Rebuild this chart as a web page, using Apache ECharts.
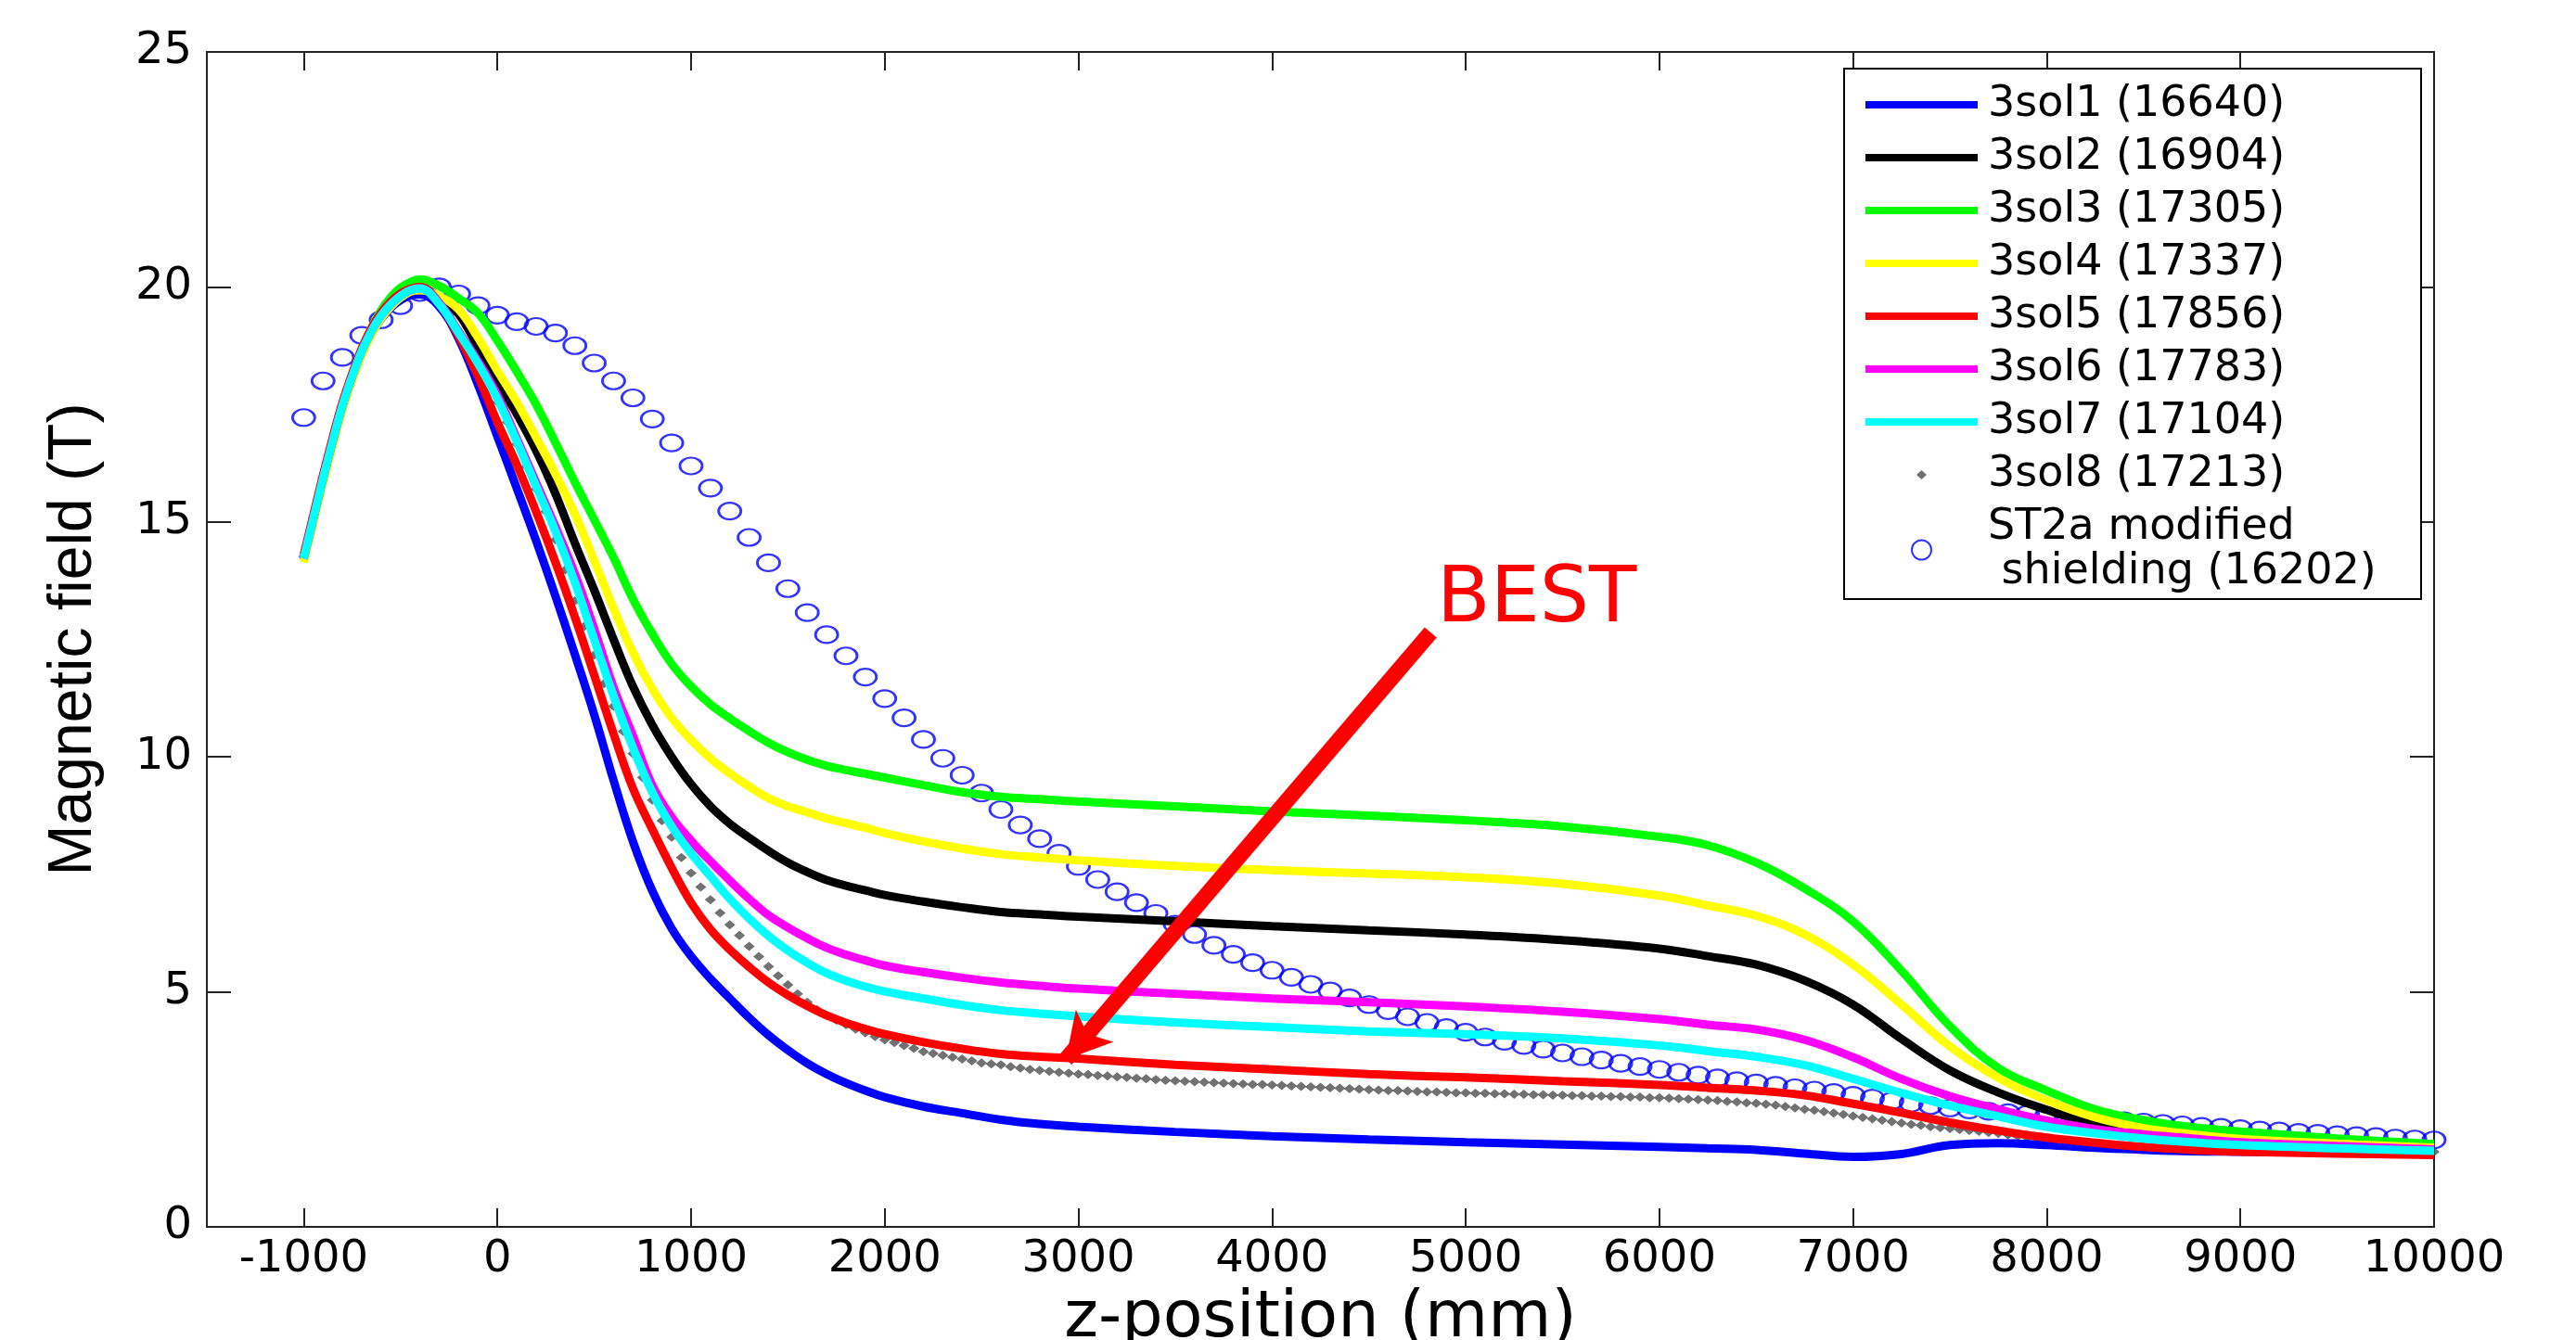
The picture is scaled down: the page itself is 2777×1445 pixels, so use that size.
<!DOCTYPE html>
<html>
<head>
<meta charset="utf-8">
<title>Magnetic field vs z-position</title>
<script src="https://cdn.jsdelivr.net/npm/echarts@6.0.0/dist/echarts.min.js"></script>
<style>
    html, body { margin: 0; padding: 0; background: #fff; }
    #field_chart { width: 2777px; height: 1445px; }
</style>
</head>
<body>
<div id="field_chart"></div>
<script>
// axis ticks
var xTicks = [-1000, 0, 1000, 2000, 3000, 4000, 5000, 6000, 7000, 8000, 9000, 10000];

// legend names
var names = ['3sol1 (16640)', '3sol2 (16904)', '3sol3 (17305)', '3sol4 (17337)', '3sol5 (17856)',
    '3sol6 (17783)', '3sol7 (17104)', '3sol8 (17213)', 'ST2a modified\n shielding (16202)'];

// z positions (mm) where the solid curves were read
var zGrid = [-1000, -950, -900, -850, -800, -750, -700, -650, -600, -550, -500, -450, -400,
    -300, -200, -100,
    0, 100, 200, 300, 400, 500, 600, 700, 800, 900, 1000, 1100, 1200, 1300, 1400, 1500, 1600, 1700, 1800, 1900, 2000,
    2200, 2400, 2600, 2800, 3000,
    3500, 4000, 4500, 5000, 5500, 6000,
    6250, 6500, 6750, 7000, 7250, 7500, 7750, 8000, 8250, 8500, 8750, 9000, 9500, 10000];

// field B (T) on zGrid
var sol1 = [14.2, 15.04, 15.88, 16.68, 17.42, 18.03, 18.57, 19.0, 19.32, 19.56, 19.72, 19.82, 19.84,
    19.58, 18.9, 17.92,
    16.82, 15.72, 14.6, 13.42, 12.18, 10.9, 9.5, 8.2, 7.15, 6.35, 5.76, 5.28, 4.86, 4.45, 4.08, 3.76, 3.48, 3.25, 3.06, 2.9, 2.76,
    2.56, 2.42, 2.28, 2.19, 2.13,
    2.02, 1.93, 1.86, 1.8, 1.75, 1.7,
    1.67, 1.64, 1.56, 1.49, 1.55, 1.74, 1.78, 1.74, 1.68, 1.64, 1.61, 1.6, 1.58, 1.56];
var sol2 = [14.22, 15.07, 15.92, 16.72, 17.47, 18.09, 18.63, 19.06, 19.39, 19.63, 19.81, 19.93, 19.96,
    19.78, 19.42, 18.72,
    17.98, 17.3, 16.52, 15.6, 14.55, 13.55, 12.5, 11.5, 10.68, 10.0, 9.42, 8.95, 8.58, 8.28, 8.0, 7.75, 7.55, 7.38, 7.26, 7.16, 7.06,
    6.92, 6.8, 6.7, 6.65, 6.6,
    6.5, 6.4, 6.31, 6.22, 6.1, 5.92,
    5.76, 5.58, 5.24, 4.73, 4.0, 3.33, 2.86, 2.49, 2.17, 1.98, 1.88, 1.8, 1.72, 1.65];
var sol3 = [14.22, 15.07, 15.92, 16.72, 17.48, 18.12, 18.68, 19.13, 19.5, 19.78, 19.98, 20.1, 20.16,
    20.02, 19.76, 19.44,
    18.86, 18.2, 17.5, 16.69, 15.85, 15.05, 14.24, 13.36, 12.62, 11.98, 11.5, 11.12, 10.82, 10.55, 10.3, 10.1, 9.94, 9.81, 9.72, 9.64, 9.56,
    9.4, 9.25, 9.15, 9.1, 9.05,
    8.95, 8.84, 8.75, 8.65, 8.52, 8.3,
    8.12, 7.75, 7.2, 6.5, 5.45, 4.27, 3.38, 2.9, 2.5, 2.27, 2.12, 2.03, 1.88, 1.76];
var sol4 = [14.14, 14.98, 15.82, 16.62, 17.38, 18.0, 18.55, 18.99, 19.33, 19.58, 19.77, 19.9, 19.93,
    19.8, 19.52, 18.92,
    18.22, 17.55, 16.8, 16.02, 15.17, 14.18, 13.16, 12.22, 11.45, 10.83, 10.36, 9.97, 9.65, 9.37, 9.12, 8.95, 8.82, 8.69, 8.59, 8.49, 8.38,
    8.2, 8.05, 7.93, 7.86, 7.8,
    7.68, 7.59, 7.52, 7.44, 7.3, 7.05,
    6.84, 6.62, 6.22, 5.58, 4.73, 3.84, 3.17, 2.69, 2.33, 2.1, 1.97, 1.87, 1.77, 1.68];
var sol5 = [14.3, 15.15, 16.0, 16.8, 17.54, 18.15, 18.69, 19.12, 19.45, 19.69, 19.86, 19.96, 20.0,
    19.65, 18.95, 18.1,
    17.12, 16.22, 15.22, 14.14, 12.98, 11.74, 10.49, 9.33, 8.46, 7.64, 6.9, 6.33, 5.9, 5.53, 5.2, 4.93, 4.7, 4.5, 4.34, 4.21, 4.1,
    3.93, 3.79, 3.68, 3.62, 3.58,
    3.45, 3.35, 3.25, 3.18, 3.1, 3.02,
    2.96, 2.9, 2.8, 2.62, 2.43, 2.22, 2.05, 1.9, 1.79, 1.7, 1.64, 1.6, 1.56, 1.53];
var sol6 = [14.22, 15.07, 15.92, 16.72, 17.47, 18.09, 18.63, 19.06, 19.39, 19.63, 19.81, 19.93, 19.97,
    19.66, 19.05, 18.42,
    17.7, 16.78, 15.84, 14.9, 13.9, 12.73, 11.48, 10.45, 9.4, 8.72, 8.22, 7.78, 7.37, 6.98, 6.63, 6.37, 6.14, 5.94, 5.79, 5.67, 5.56,
    5.42, 5.3, 5.2, 5.13, 5.07,
    4.96, 4.86, 4.78, 4.69, 4.58, 4.42,
    4.3, 4.2, 3.98, 3.61, 3.15, 2.78, 2.5, 2.26, 2.08, 1.97, 1.88, 1.8, 1.72, 1.65];
var sol7 = [14.22, 15.07, 15.92, 16.72, 17.47, 18.09, 18.63, 19.06, 19.39, 19.63, 19.81, 19.93, 19.97,
    19.63, 19.02, 18.37,
    17.62, 16.72, 15.76, 14.8, 13.72, 12.5, 11.3, 10.2, 9.25, 8.52, 7.95, 7.46, 6.98, 6.56, 6.19, 5.88, 5.62, 5.4, 5.24, 5.11, 5.01,
    4.86, 4.72, 4.61, 4.54, 4.48,
    4.35, 4.25, 4.16, 4.1, 4.01, 3.86,
    3.74, 3.62, 3.44, 3.15, 2.85, 2.58, 2.35, 2.13, 1.99, 1.88, 1.8, 1.74, 1.67, 1.62];

// 3sol8 markers, one every 50 mm from -1000
var sol8Start = -1000, sol8Step = 50;
var sol8Values = [14.26, 15.09, 15.94, 16.69, 17.46, 18.07, 18.64, 19.06, 19.36, 19.6, 19.77, 19.9, 19.95, 19.85, 19.66, 19.4, 19.03, 18.7, 18.36, 17.95,
    17.55, 17.12, 16.66, 16.18, 15.7, 15.22, 14.62, 13.98, 13.32, 12.78, 12.17, 11.56, 11.08, 10.54, 10.07, 9.56, 9.08, 8.64, 8.29, 7.86,
    7.53, 7.23, 6.96, 6.68, 6.43, 6.2, 5.97, 5.75, 5.54, 5.34, 5.15, 4.96, 4.78, 4.62, 4.5, 4.4, 4.3, 4.21, 4.13, 4.05,
    3.98, 3.92, 3.86, 3.8, 3.73, 3.69, 3.65, 3.61, 3.57, 3.53, 3.49, 3.47, 3.45, 3.41, 3.38, 3.35, 3.33, 3.31, 3.29, 3.27,
    3.25, 3.24, 3.22, 3.21, 3.19, 3.18, 3.16, 3.15, 3.13, 3.12, 3.11, 3.1, 3.09, 3.08, 3.07, 3.06, 3.05, 3.04, 3.03, 3.03,
    3.02, 3.01, 3.0, 2.99, 2.98, 2.97, 2.96, 2.95, 2.94, 2.93, 2.92, 2.91, 2.9, 2.9, 2.89, 2.88, 2.87, 2.87, 2.86, 2.85,
    2.85, 2.84, 2.84, 2.83, 2.83, 2.82, 2.82, 2.81, 2.81, 2.8, 2.8, 2.79, 2.79, 2.78, 2.78, 2.77, 2.77, 2.76, 2.76, 2.75,
    2.75, 2.74, 2.73, 2.72, 2.71, 2.7, 2.69, 2.67, 2.66, 2.64, 2.63, 2.61, 2.59, 2.56, 2.53, 2.5, 2.48, 2.45, 2.42, 2.39,
    2.36, 2.33, 2.3, 2.27, 2.24, 2.21, 2.18, 2.16, 2.13, 2.11, 2.09, 2.07, 2.05, 2.03, 2.01, 1.99, 1.96, 1.93, 1.9, 1.87,
    1.84, 1.82, 1.8, 1.78, 1.77, 1.75, 1.74, 1.73, 1.72, 1.71, 1.71, 1.7, 1.7, 1.69, 1.69, 1.68, 1.68, 1.67, 1.67, 1.66,
    1.66, 1.65, 1.65, 1.65, 1.64, 1.64, 1.64, 1.63, 1.63, 1.63, 1.62, 1.62, 1.62, 1.62, 1.61, 1.61, 1.61, 1.61, 1.6, 1.6, 1.6];

// ST2a circles, one every 100 mm from -1000
var st2aStart = -1000, st2aStep = 100;
var st2aValues = [17.22, 18.0, 18.5, 18.97, 19.3, 19.6, 19.88, 20.0, 19.85, 19.6,
    19.4, 19.26, 19.16, 19.02, 18.75, 18.38, 18.0, 17.64, 17.19, 16.68,
    16.19, 15.72, 15.23, 14.67, 14.13, 13.58, 13.07, 12.6, 12.15, 11.7,
    11.24, 10.83, 10.37, 9.97, 9.61, 9.23, 8.88, 8.55, 8.26, 7.95,
    7.67, 7.39, 7.13, 6.9, 6.67, 6.44, 6.22, 5.99, 5.8, 5.62,
    5.46, 5.31, 5.16, 5.02, 4.87, 4.73, 4.6, 4.47, 4.35, 4.24,
    4.14, 4.04, 3.95, 3.86, 3.78, 3.7, 3.62, 3.55, 3.48, 3.41,
    3.35, 3.29, 3.23, 3.17, 3.11, 3.06, 3.01, 2.96, 2.91, 2.86,
    2.8, 2.74, 2.68, 2.63, 2.58, 2.53, 2.49, 2.46, 2.43, 2.4,
    2.37, 2.34, 2.31, 2.28, 2.26, 2.23, 2.2, 2.17, 2.14, 2.12,
    2.09, 2.06, 2.04, 2.01, 1.99, 1.96, 1.94, 1.92, 1.89, 1.87, 1.85];

// "BEST" arrow: tail and head centre (z, B)
var bestArrow = [[4819, 12.65], [2935, 3.56]];

function zipGrid(values) {
    var out = [];
    for (var i = 0; i < zGrid.length; i++) {
        out.push([zGrid[i], values[i]]);
    }
    return out;
}

function toPoints(start, step, values) {
    var out = [];
    for (var i = 0; i < values.length; i++) {
        out.push([start + i * step, values[i]]);
    }
    return out;
}

function solLine(name, values, color) {
    return {
        name: name,
        type: 'line',
        data: zipGrid(values),
        symbol: 'none',
        smooth: 0.4,
        lineStyle: {color: color, width: 9},
        itemStyle: {color: color}
    };
}

var axisColor = '#222';
var lineIcon = 'path://M0,0L0,0M121,21L121,21M0,6.5L121,6.5L121,14.5L0,14.5Z';
var diamondIcon = 'path://M0,0L0,0M121,21L121,21M55,10.5L60.5,5.5L66,10.5L60.5,15.5Z';

var fieldChart = echarts.init(document.getElementById('field_chart'));

var field_option = {
    animation: false,
    backgroundColor: '#fff',
    textStyle: {fontFamily: 'DejaVu Sans'},
    grid: {left: 223, right: 153, top: 56, bottom: 122, containLabel: false, outerBoundsMode: 'none'},
    legend: {
        orient: 'vertical',
        left: 1988,
        top: 74,
        z: 10,
        selectedMode: false,
        padding: [15, 20, 3, 23],
        itemWidth: 121,
        itemHeight: 21,
        itemGap: 9,
        textStyle: {fontFamily: 'DejaVu Sans', fontSize: 46, lineHeight: 48, color: '#000', padding: [0, 0, 0, 6]},
        data: [
            {name: names[0], icon: lineIcon}, {name: names[1], icon: lineIcon}, {name: names[2], icon: lineIcon},
            {name: names[3], icon: lineIcon}, {name: names[4], icon: lineIcon}, {name: names[5], icon: lineIcon},
            {name: names[6], icon: lineIcon},
            {name: names[7], icon: diamondIcon},
            {name: names[8]}
        ]
    },
    xAxis: [{
        type: 'value',
        min: -1500,
        max: 10000,
        position: 'bottom',
        name: 'z-position (mm)',
        nameLocation: 'middle',
        nameGap: 56,
        nameTextStyle: {fontFamily: 'DejaVu Sans', fontSize: 70, color: '#000'},
        axisLine: {show: true, onZero: false, lineStyle: {color: axisColor, width: 2}},
        axisTick: {show: true, inside: true, length: 20, customValues: xTicks, lineStyle: {color: axisColor, width: 2}},
        axisLabel: {
            customValues: xTicks, margin: 12, fontFamily: 'DejaVu Sans', fontSize: 48, color: '#000',
            formatter: function (v) { return String(v); }
        },
        splitLine: {show: false}
    }, {
        type: 'value',
        min: -1500,
        max: 10000,
        position: 'top',
        axisLine: {show: true, onZero: false, lineStyle: {color: axisColor, width: 2}},
        axisTick: {show: true, inside: true, length: 20, customValues: xTicks, lineStyle: {color: axisColor, width: 2}},
        axisLabel: {show: false},
        splitLine: {show: false}
    }],
    yAxis: [{
        type: 'value',
        min: 0,
        max: 25,
        interval: 5,
        position: 'left',
        name: 'Magnetic field (T)',
        nameLocation: 'middle',
        nameGap: 110,
        nameTextStyle: {fontFamily: 'Liberation Sans', fontSize: 66, color: '#000'},
        axisLine: {show: true, onZero: false, lineStyle: {color: axisColor, width: 2}},
        axisTick: {show: true, inside: true, length: 26, lineStyle: {color: axisColor, width: 2}},
        axisLabel: {margin: 16, fontFamily: 'DejaVu Sans', fontSize: 48, color: '#000'},
        splitLine: {show: false}
    }, {
        type: 'value',
        min: 0,
        max: 25,
        interval: 5,
        position: 'right',
        axisLine: {show: true, onZero: false, lineStyle: {color: axisColor, width: 2}},
        axisTick: {show: true, inside: true, length: 26, lineStyle: {color: axisColor, width: 2}},
        axisLabel: {show: false},
        splitLine: {show: false}
    }],
    graphic: [{
        type: 'rect',
        z: 5,
        shape: {x: 1988, y: 74, width: 622, height: 572},
        style: {fill: '#fff', stroke: '#000', lineWidth: 2}
    }, {
        type: 'text',
        z: 6,
        x: 1549,
        y: 648,
        style: {text: 'BEST', fill: '#ff0000', fontSize: 84, fontFamily: 'DejaVu Sans', verticalAlign: 'middle'}
    }],
    series: [
        solLine(names[0], sol1, '#0000ff'),
        solLine(names[1], sol2, '#000000'),
        solLine(names[2], sol3, '#00ff00'),
        solLine(names[3], sol4, '#ffff00'),
        solLine(names[4], sol5, '#ff0000'),
        solLine(names[5], sol6, '#ff00ff'),
        solLine(names[6], sol7, '#00ffff'),
        {
            name: names[7],
            type: 'scatter',
            data: toPoints(sol8Start, sol8Step, sol8Values),
            symbol: 'diamond',
            symbolSize: [12, 10],
            itemStyle: {color: '#4d4d4d'}
        },
        {
            name: names[8],
            type: 'scatter',
            data: toPoints(st2aStart, st2aStep, st2aValues),
            symbol: 'circle',
            symbolSize: [24, 18],
            itemStyle: {color: 'rgba(0,0,0,0)', borderColor: '#0000ff', borderWidth: 2.5},
            markLine: {
                silent: true,
                animation: false,
                symbol: ['none', 'arrow'],
                symbolSize: [40, 48],
                label: {show: false},
                lineStyle: {color: '#ff0000', width: 17, type: 'solid'},
                itemStyle: {color: '#ff0000'},
                data: [[{coord: bestArrow[0]}, {coord: bestArrow[1]}]]
            }
        }
    ]
};

fieldChart.setOption(field_option);
</script>
</body>
</html>
